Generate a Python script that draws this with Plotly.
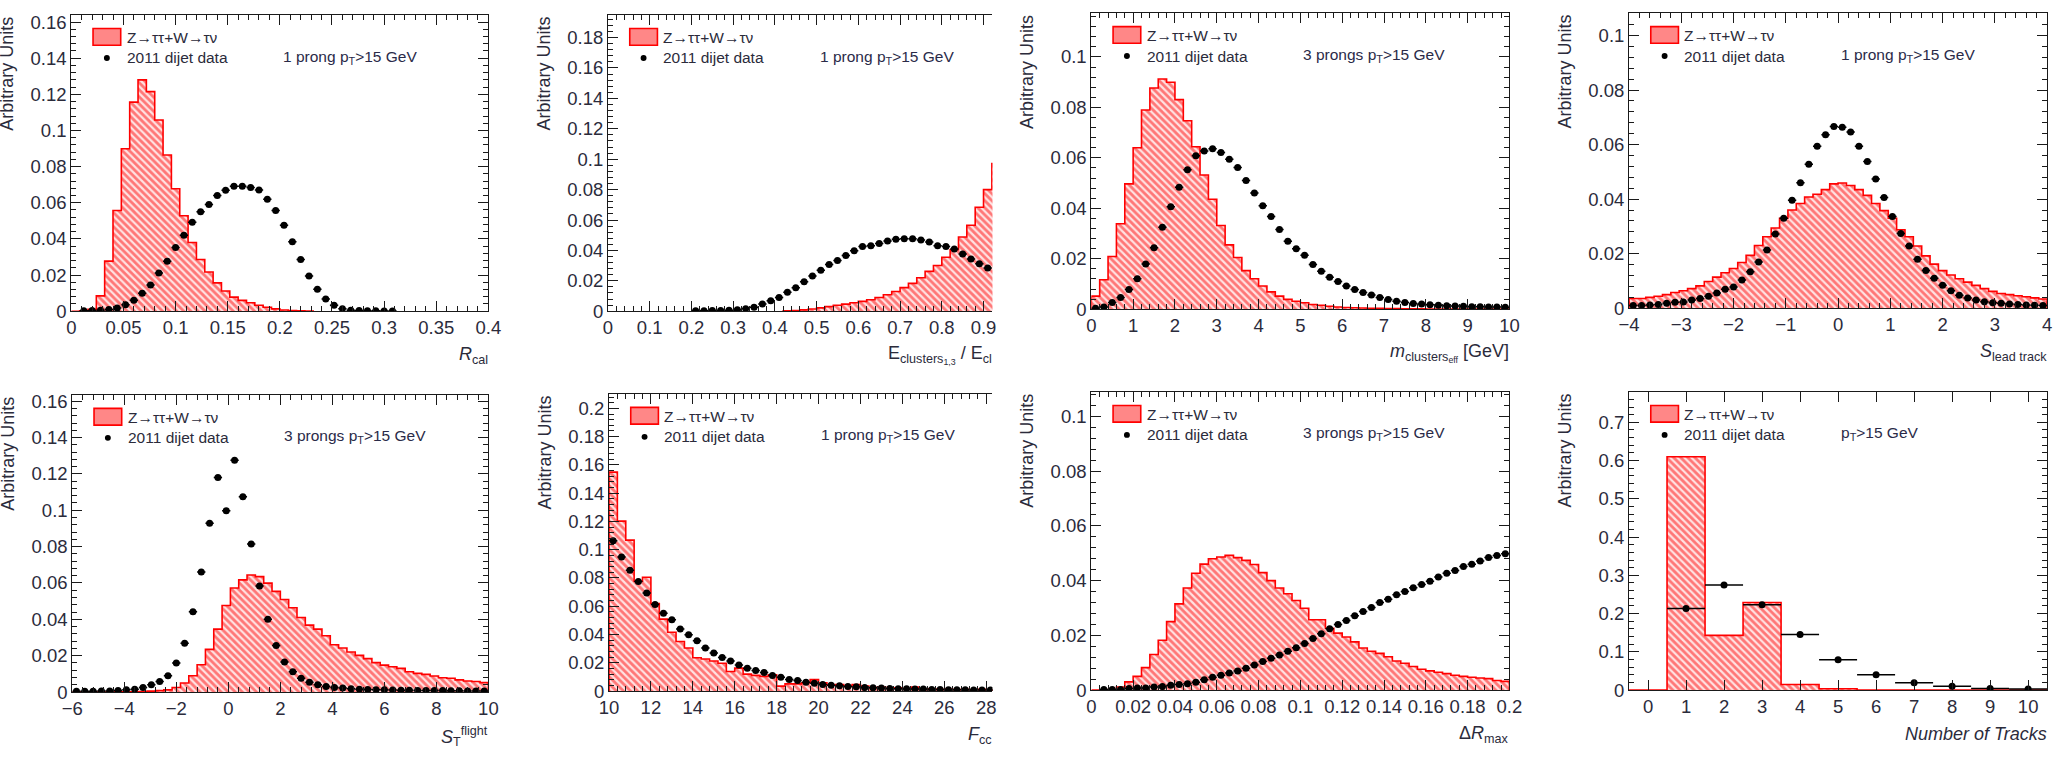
import numpy as np
import plotly.graph_objects as go

W, H = 2071, 758

# ---------------- data ----------------
# Panel 1: R_cal (1 prong)
RCAL_BIN_LO, RCAL_BIN_W = 0.0, 0.008
RCAL_SIG_START = 0
RCAL_SIG = [0.0, 0.0003, 0.001, 0.0085, 0.0277, 0.0557, 0.0899, 0.1157, 0.128, 0.1215,
            0.1058, 0.0864, 0.0678, 0.0528, 0.038, 0.0286, 0.0217, 0.0157, 0.0112, 0.0078,
            0.006, 0.0047, 0.0033, 0.0022, 0.0013, 0.0007, 0.0004, 0.0002, 0.0001]
RCAL_DATA_START = 1
RCAL_DATA = [0.0002, 0.0004, 0.0005, 0.001, 0.0018, 0.0036, 0.0061, 0.0099, 0.0145, 0.0212,
             0.0277, 0.0353, 0.0421, 0.0492, 0.0551, 0.0591, 0.064, 0.0669, 0.0692, 0.0692,
             0.0685, 0.0671, 0.062, 0.0557, 0.0476, 0.0385, 0.0286, 0.0195, 0.0121, 0.0067,
             0.0033, 0.0014, 0.0005, 0.0004, 0.0002, 0.0002, 0.0001, 0.0001]

# Panel 2: E_clusters1,3 / E_clusters (1 prong)
EFR_BIN_LO, EFR_BIN_W = 0.0, 0.02
EFR_SIG_START = 21
EFR_SIG = [0.0002, 0.0005, 0.0009, 0.0015, 0.0022, 0.003, 0.0039, 0.0047, 0.0056, 0.0065,
           0.0075, 0.009, 0.0108, 0.013, 0.0155, 0.0183, 0.022, 0.0262, 0.0301, 0.0355,
           0.0404, 0.0488, 0.0566, 0.0684, 0.08, 0.0972]
EFR_DATA_START = 10
EFR_DATA = [0.0003, 0.0003, 0.0004, 0.0005, 0.0007, 0.001, 0.0017, 0.0026, 0.0047, 0.0069,
            0.009, 0.0125, 0.0155, 0.0194, 0.0232, 0.0269, 0.0308, 0.0333, 0.0366, 0.0398,
            0.0426, 0.043, 0.0445, 0.0462, 0.0473, 0.0477, 0.0477, 0.0469, 0.0456, 0.043,
            0.0426, 0.0409, 0.0376, 0.0344, 0.0312, 0.0284]

# Panel 3: m_clusters,eff (3 prongs)
MCL_BIN_LO, MCL_BIN_W = 0.0, 0.2
MCL_SIG_START = 0
MCL_SIG = [0.0052, 0.0117, 0.0209, 0.0339, 0.0497, 0.064, 0.079, 0.0877, 0.0913, 0.09,
           0.0831, 0.0747, 0.0644, 0.0532, 0.0436, 0.0332, 0.0255, 0.0205, 0.0153, 0.0121,
           0.0092, 0.0069, 0.0052, 0.0039, 0.0032, 0.0026, 0.0019, 0.0016, 0.0012, 0.0009,
           0.0007, 0.0006, 0.0005, 0.0004, 0.0004, 0.0003, 0.0003, 0.0002, 0.0002, 0.0002,
           0.0001, 0.0001, 0.0001, 0.0001, 0.0001, 0.0001, 0.0001, 0.0001, 0.0001, 0.0001]
MCL_DATA_START = 0
MCL_DATA = [0.0004, 0.0009, 0.0027, 0.0047, 0.0078, 0.0121, 0.0179, 0.0244, 0.0325, 0.0406,
            0.0484, 0.0553, 0.0608, 0.0627, 0.0636, 0.0621, 0.0595, 0.0562, 0.051, 0.0461,
            0.041, 0.0368, 0.0316, 0.027, 0.024, 0.0214, 0.0177, 0.0151, 0.0127, 0.011,
            0.0092, 0.0078, 0.0066, 0.0056, 0.0047, 0.0039, 0.0032, 0.0027, 0.0023, 0.0021,
            0.0018, 0.0016, 0.0014, 0.0013, 0.0012, 0.001, 0.001, 0.0009, 0.0009, 0.0008]

# Panel 4: S_lead track (1 prong)
SLT_BIN_LO, SLT_BIN_W = -4.0, 0.16
SLT_SIG_START = 0
SLT_SIG = [0.0036, 0.0036, 0.004, 0.0044, 0.005, 0.0058, 0.0064, 0.0072, 0.0082, 0.0098,
           0.0114, 0.013, 0.0146, 0.0168, 0.0194, 0.023, 0.0262, 0.0294, 0.033, 0.036,
           0.0384, 0.0408, 0.0418, 0.0435, 0.0456, 0.0459, 0.045, 0.0435, 0.0414, 0.0384,
           0.0358, 0.033, 0.0288, 0.0262, 0.0228, 0.0192, 0.0162, 0.0138, 0.0122, 0.0108,
           0.0096, 0.0084, 0.0072, 0.0062, 0.0054, 0.005, 0.0046, 0.0042, 0.0038, 0.0034]
SLT_DATA_START = 0
SLT_DATA = [0.001, 0.001, 0.0012, 0.0014, 0.0018, 0.0022, 0.0023, 0.003, 0.0036, 0.0044,
            0.0056, 0.007, 0.0078, 0.0104, 0.0134, 0.017, 0.0214, 0.0272, 0.033, 0.0396,
            0.046, 0.0528, 0.0594, 0.0636, 0.0666, 0.0664, 0.0646, 0.0594, 0.0538, 0.0474,
            0.0406, 0.0336, 0.0274, 0.0228, 0.018, 0.0138, 0.011, 0.0084, 0.0064, 0.0048,
            0.0038, 0.003, 0.0024, 0.002, 0.0018, 0.0016, 0.0014, 0.0012, 0.0011, 0.001]

# Panel 5: S_T^flight (3 prongs)
SFL_BIN_LO, SFL_BIN_W = -6.0, 0.32
SFL_SIG_START = 0
SFL_SIG = [0.0, 0.0, 0.0, 0.0, 0.0, 0.0001, 0.0001, 0.0002, 0.0003, 0.0005,
           0.0008, 0.0012, 0.0025, 0.005, 0.009, 0.015, 0.0235, 0.0346, 0.0476, 0.0572,
           0.0617, 0.0644, 0.0635, 0.0599, 0.0554, 0.0509, 0.0464, 0.041, 0.0368, 0.0346,
           0.031, 0.026, 0.0242, 0.022, 0.0202, 0.0184, 0.0162, 0.0148, 0.0139, 0.013,
           0.0112, 0.0103, 0.0097, 0.0088, 0.0079, 0.0076, 0.0067, 0.0061, 0.0058, 0.0052]
SFL_DATA_START = 0
SFL_DATA = [0.0005, 0.0005, 0.0005, 0.0006, 0.0006, 0.0008, 0.0013, 0.0016, 0.0025, 0.004,
            0.0058, 0.009, 0.016, 0.0269, 0.0442, 0.066, 0.0929, 0.118, 0.0997, 0.1275,
            0.1075, 0.0815, 0.0584, 0.04, 0.0256, 0.0166, 0.0112, 0.0076, 0.0054, 0.004,
            0.0031, 0.0025, 0.0022, 0.0018, 0.0016, 0.0014, 0.0013, 0.0012, 0.0011, 0.001,
            0.001, 0.0009, 0.0009, 0.0008, 0.0008, 0.0007, 0.0007, 0.0006, 0.0006, 0.0006]

# Panel 6: F_corr (1 prong)
FCO_BIN_LO, FCO_BIN_W = 10.0, 0.4
FCO_SIG_START = 0
FCO_SIG = [0.1549, 0.1202, 0.1068, 0.0778, 0.0805, 0.062, 0.0509, 0.0416, 0.0351, 0.0305,
           0.0236, 0.0227, 0.0213, 0.0197, 0.0139, 0.0162, 0.012, 0.0111, 0.0104, 0.0116,
           0.0035, 0.0051, 0.0051, 0.0058, 0.0081, 0.0058, 0.0042, 0.0046, 0.0035, 0.0046,
           0.0035, 0.0023, 0.0028, 0.0018, 0.0023, 0.0016, 0.0028, 0.0012, 0.0016, 0.0009,
           0.0014, 0.0009, 0.0012, 0.0007, 0.0012, 0.0007]
FCO_DATA_START = 0
FCO_DATA = [0.1064, 0.0948, 0.0855, 0.0775, 0.0694, 0.0613, 0.055, 0.0504, 0.0439, 0.0398,
            0.0356, 0.0305, 0.027, 0.0238, 0.0213, 0.0185, 0.0162, 0.0146, 0.0132, 0.0111,
            0.0097, 0.0081, 0.0074, 0.0062, 0.0055, 0.0046, 0.0042, 0.0037, 0.0032, 0.003,
            0.0025, 0.0023, 0.0021, 0.0018, 0.0016, 0.0016, 0.0014, 0.0014, 0.0012, 0.0012,
            0.0009, 0.0009, 0.0009, 0.0007, 0.0007, 0.0007]

# Panel 7: Delta R_max (3 prongs)
DRM_BIN_LO, DRM_BIN_W = 0.0, 0.004
DRM_SIG_START = 0
DRM_SIG = [0.0, 0.0, 0.0002, 0.0011, 0.003, 0.005, 0.0082, 0.013, 0.0182, 0.025,
           0.0315, 0.0373, 0.0427, 0.046, 0.048, 0.0486, 0.0492, 0.0484, 0.0474, 0.0459,
           0.0429, 0.04, 0.0373, 0.0352, 0.0327, 0.0299, 0.0257, 0.0257, 0.0226, 0.0208,
           0.0194, 0.0176, 0.0154, 0.0142, 0.0134, 0.0122, 0.0106, 0.0098, 0.0086, 0.0076,
           0.007, 0.0065, 0.006, 0.0054, 0.005, 0.0047, 0.0044, 0.0042, 0.0035, 0.0032]
DRM_DATA_START = 1
DRM_DATA = [0.0002, 0.0002, 0.0002, 0.0006, 0.0008, 0.0008, 0.0011, 0.0013, 0.0018,
            0.002, 0.0023, 0.0029, 0.0038, 0.0047, 0.0054, 0.0062, 0.007, 0.008, 0.0092,
            0.0104, 0.0116, 0.0128, 0.0142, 0.0155, 0.017, 0.0188, 0.0206, 0.0224, 0.024,
            0.0254, 0.0272, 0.0287, 0.0302, 0.032, 0.0332, 0.0348, 0.036, 0.0374, 0.0386,
            0.0398, 0.0413, 0.0427, 0.0437, 0.0451, 0.046, 0.0472, 0.0484, 0.0492, 0.0498]

# Panel 8: number of tracks
NTR_BIN_LO, NTR_BIN_W = -0.5, 1.0
NTR_SIG_START = 0
NTR_SIG = [0.0, 0.61, 0.143, 0.229, 0.0146, 0.0034, 0.0, 0.0, 0.0, 0.0, 0.0]
NTR_DATA_START = 1
NTR_DATA = [0.213, 0.275, 0.223, 0.145, 0.079, 0.04, 0.019, 0.01, 0.004, 0.003]

SIG_LABEL = "Z\u2192\u03c4\u03c4+W\u2192\u03c4\u03bd"
DATA_LABEL = "2011 dijet data"
Y_TITLE = "Arbitrary Units"

# ---------------- layout of the panels (pixels) ----------------
PANELS = [
    dict(frame=(61, 483, 11, 313), xr=[0, 0.4], yr=[0, 0.164], xd=0.05, xm=0.01, yd=0.02, ym=0.004,
         cut=False, info="1 prong p<sub>T</sub>>15 GeV", xt="<i>R</i><sub>cal</sub>",
         d=(RCAL_BIN_LO, RCAL_BIN_W, RCAL_SIG_START, RCAL_SIG, RCAL_DATA_START, RCAL_DATA)),
    dict(frame=(604, 993, 11, 313), xr=[0, 0.9215], yr=[0, 0.195], xd=0.1, xm=0.02, yd=0.02, ym=0.004,
         cut=True, info="1 prong p<sub>T</sub>>15 GeV",
         xt="E<sub>clusters<sub>1,3</sub></sub> / E<sub>cl</sub>",
         d=(EFR_BIN_LO, EFR_BIN_W, EFR_SIG_START, EFR_SIG, EFR_DATA_START, EFR_DATA)),
    dict(frame=(1093, 1516, 9, 311), xr=[0, 10], yr=[0, 0.1175], xd=1, xm=0.2, yd=0.02, ym=0.004,
         cut=False, info="3 prongs p<sub>T</sub>>15 GeV",
         xt="<i>m</i><sub>clusters<sub>eff</sub></sub> [GeV]",
         d=(MCL_BIN_LO, MCL_BIN_W, MCL_SIG_START, MCL_SIG, MCL_DATA_START, MCL_DATA)),
    dict(frame=(1637, 2060, 9, 310), xr=[-4, 4], yr=[0, 0.1083], xd=1, xm=0.2, yd=0.02, ym=0.004,
         cut=False, info="1 prong p<sub>T</sub>>15 GeV", xt="<i>S</i><sub>lead track</sub>",
         d=(SLT_BIN_LO, SLT_BIN_W, SLT_SIG_START, SLT_SIG, SLT_DATA_START, SLT_DATA)),
    dict(frame=(62, 483, 398, 701), xr=[-6, 10], yr=[0, 0.1636], xd=2, xm=0.4, yd=0.02, ym=0.004,
         cut=False, info="3 prongs p<sub>T</sub>>15 GeV",
         xt="<i>S</i><sub>T</sub><sup>flight</sup>",
         d=(SFL_BIN_LO, SFL_BIN_W, SFL_SIG_START, SFL_SIG, SFL_DATA_START, SFL_DATA)),
    dict(frame=(605, 993, 397, 700), xr=[10, 28.3], yr=[0, 0.2104], xd=2, xm=0.4, yd=0.02, ym=0.004,
         cut=True, info="1 prong p<sub>T</sub>>15 GeV", xt="<i>F</i><sub>cc</sub>",
         d=(FCO_BIN_LO, FCO_BIN_W, FCO_SIG_START, FCO_SIG, FCO_DATA_START, FCO_DATA)),
    dict(frame=(1093, 1516, 395, 699), xr=[0, 0.2], yr=[0, 0.109], xd=0.02, xm=0.004, yd=0.02, ym=0.004,
         cut=False, info="3 prongs p<sub>T</sub>>15 GeV", xt="\u0394<i>R</i><sub>max</sub>",
         d=(DRM_BIN_LO, DRM_BIN_W, DRM_SIG_START, DRM_SIG, DRM_DATA_START, DRM_DATA)),
    dict(frame=(1637, 2060, 395, 699), xr=[-0.5, 10.5], yr=[0, 0.78], xd=1, xm=None, yd=0.1, ym=0.02,
         cut=False, info="p<sub>T</sub>>15 GeV", xt="<i>Number of Tracks</i>",
         d=(NTR_BIN_LO, NTR_BIN_W, NTR_SIG_START, NTR_SIG, NTR_DATA_START, NTR_DATA)),
]

FONT = "Liberation Sans, Arial, Helvetica, sans-serif"
TXT = "#2b2b3b"
AXC = "#1a1a1a"
TICKSIZE = 18.5

fig = go.Figure()
layout = dict(width=W, height=H, margin=dict(l=0, r=0, t=0, b=0),
              paper_bgcolor="white", plot_bgcolor="white", showlegend=False,
              font=dict(family=FONT, color=TXT))
annotations = []
shapes = []


def px(x):
    return x / W


def py(y):
    return 1 - y / H


for i, p in enumerate(PANELS, start=1):
    l, r, t, b = p["frame"]
    xa, ya = ("x" if i == 1 else f"x{i}"), ("y" if i == 1 else f"y{i}")
    xk, yk = ("xaxis" if i == 1 else f"xaxis{i}"), ("yaxis" if i == 1 else f"yaxis{i}")

    xax = dict(domain=[px(l), px(r)], anchor=ya, range=p["xr"], showgrid=False, zeroline=False,
               showline=True, linecolor=AXC, linewidth=1, mirror="allticks",
               ticks="inside", ticklen=10, tickcolor=AXC, dtick=p["xd"],
               tick0=p["xr"][0] if i == 6 else 0,
               tickfont=dict(size=TICKSIZE, color=TXT, family=FONT))
    if p["xm"]:
        xax["minor"] = dict(ticks="inside", ticklen=5, tickcolor=AXC, dtick=p["xm"], showgrid=False)
    yax = dict(domain=[py(b), py(t)], anchor=xa, range=p["yr"], showgrid=False, zeroline=False,
               showline=True, linecolor=AXC, linewidth=1, mirror=False if p["cut"] else "allticks",
               ticks="inside", ticklen=10, tickcolor=AXC, dtick=p["yd"], tick0=0,
               minor=dict(ticks="inside", ticklen=5, tickcolor=AXC, dtick=p["ym"], showgrid=False),
               tickfont=dict(size=TICKSIZE, color=TXT, family=FONT))
    layout[xk] = xax
    layout[yk] = yax

    bin_lo, bin_w, s0, sig, d0, dat = p["d"]
    n = len(sig)
    edges = bin_lo + bin_w * (s0 + np.arange(n + 1))
    hx = [edges[0]] + list(edges[:n]) + [edges[n], edges[n]]
    hy = [0.0] + list(sig) + [sig[-1], 0.0]
    fig.add_trace(go.Scatter(
        x=hx, y=hy, xaxis=xa, yaxis=ya, mode="lines",
        line=dict(color="#ff0000", width=1.6, shape="hv"),
        fill="tozeroy", fillcolor="rgba(255,255,255,0)",
        fillpattern=dict(shape="\\", fgcolor="#ff0a0a", bgcolor="#ffe2e2", size=5, solidity=0.55),
        hoverinfo="skip", name=SIG_LABEL))

    centers = bin_lo + bin_w * (d0 + np.arange(len(dat)) + 0.5)
    fig.add_trace(go.Scatter(
        x=centers, y=dat, xaxis=xa, yaxis=ya, mode="markers",
        marker=dict(color="black", size=7),
        error_x=dict(type="constant", value=bin_w / 2, color="black", thickness=1.5, width=0),
        name=DATA_LABEL))

    # legend (hand-placed like the ROOT legend)
    shapes.append(dict(type="rect", xref="paper", yref="paper",
                       x0=px(l + 22), x1=px(l + 50), y0=py(t + 31), y1=py(t + 14),
                       line=dict(color="#ff0000", width=1.6), fillcolor="rgba(255,70,70,0.65)"))
    shapes.append(dict(type="circle", xref="paper", yref="paper",
                       x0=px(l + 33), x1=px(l + 39), y0=py(t + 47), y1=py(t + 41),
                       line=dict(color="black", width=0), fillcolor="black"))
    annotations.append(dict(xref="paper", yref="paper", x=px(l + 54), y=py(t + 23), text=SIG_LABEL,
                            showarrow=False, xanchor="left", yanchor="middle",
                            font=dict(size=15.5, color=TXT, family=FONT)))
    annotations.append(dict(xref="paper", yref="paper", x=px(l + 54), y=py(t + 44), text=DATA_LABEL,
                            showarrow=False, xanchor="left", yanchor="middle",
                            font=dict(size=15.5, color=TXT, family=FONT)))
    annotations.append(dict(xref="paper", yref="paper", x=px(l + 212), y=py(t + 43), text=p["info"],
                            showarrow=False, xanchor="left", yanchor="middle",
                            font=dict(size=15.5, color="#2a2a48", family=FONT)))
    # axis titles
    annotations.append(dict(xref="paper", yref="paper", x=px(r + 2), y=py(b + 45), text=p["xt"],
                            showarrow=False, xanchor="right", yanchor="middle",
                            font=dict(size=18, color=TXT, family=FONT)))
    annotations.append(dict(xref="paper", yref="paper", x=px(l - 65), y=py(t), text=Y_TITLE,
                            textangle=-90, showarrow=False, xanchor="center", yanchor="top",
                            font=dict(size=18, color=TXT, family=FONT)))

layout["annotations"] = annotations
layout["shapes"] = shapes
fig.update_layout(**layout)
fig.write_html("out.html")
